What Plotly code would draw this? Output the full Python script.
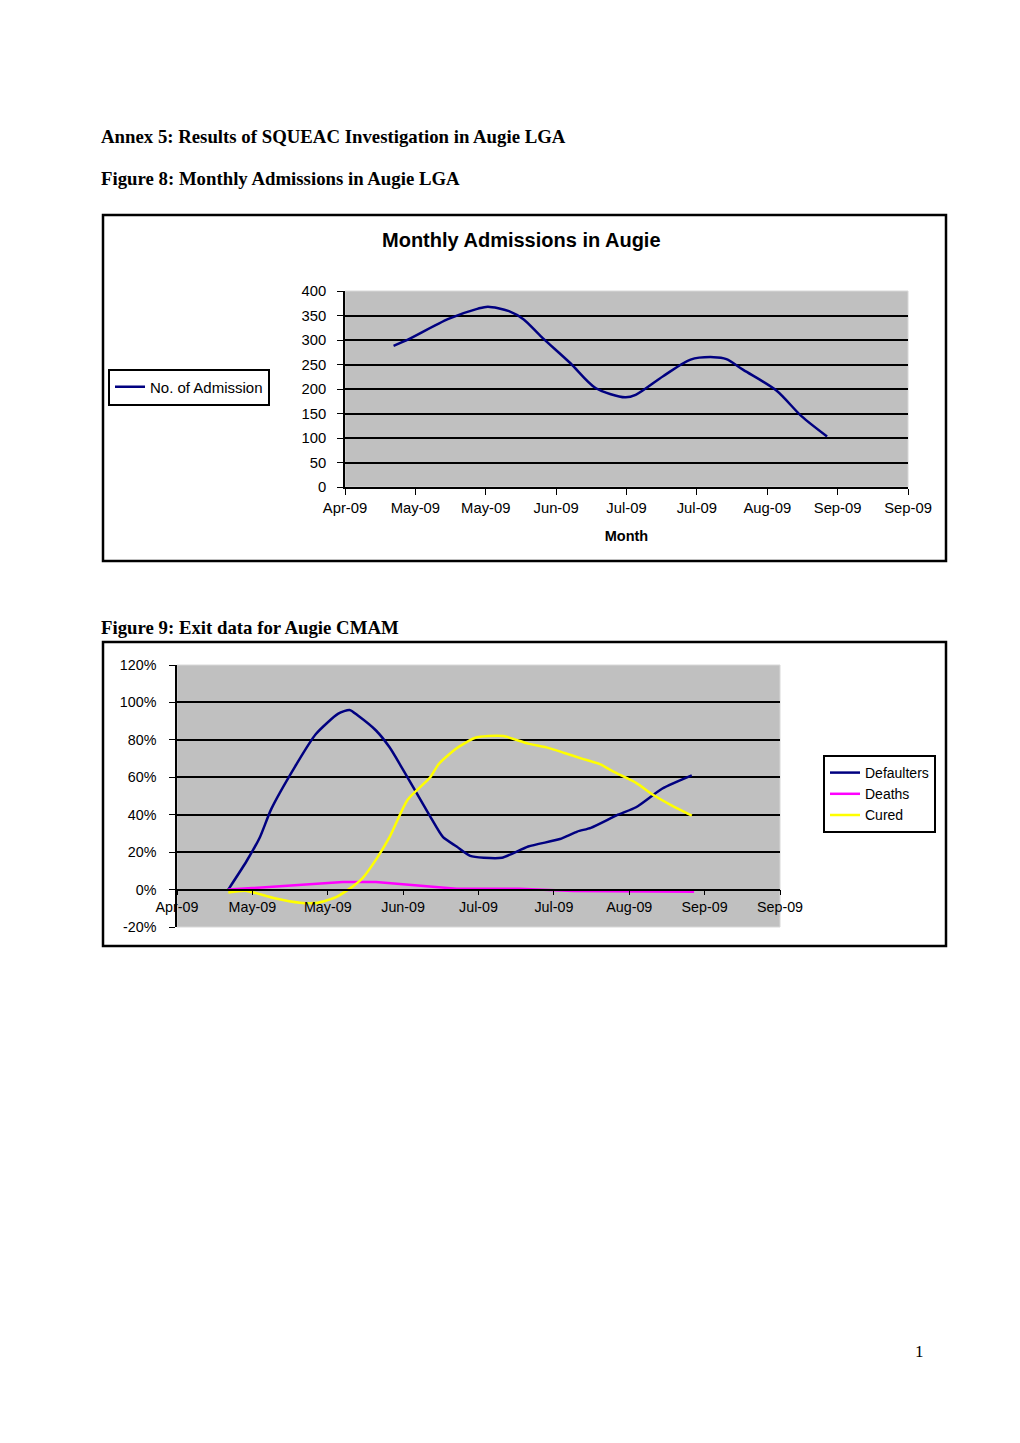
import plotly.graph_objects as go

W, H = 1020, 1443
OFF = 8  # page body margin in the browser

def px(x):
    return (x - OFF) / W

def py(y):
    return 1 - (y - OFF) / H

# ---------------- data ----------------
tick_labels = ["Apr-09", "May-09", "May-09", "Jun-09", "Jul-09", "Jul-09", "Aug-09", "Sep-09", "Sep-09"]
adm_ticks = [0, 50, 100, 150, 200, 250, 300, 350, 400]
pct_vals = [-20, 0, 20, 40, 60, 80, 100, 120]
pct_labels = ["-20%", "0%", "20%", "40%", "60%", "80%", "100%", "120%"]

adm_x = [0.69, 0.87, 1.47, 1.89, 2.03, 2.33, 2.54, 2.78, 3.20, 3.56, 3.98, 4.13, 4.52, 4.91, 5.24, 5.42, 5.66, 6.13, 6.49, 6.85]
adm_y = [288, 299, 343, 364, 368, 359, 342, 308, 253, 202, 183, 188, 226, 260, 265, 261, 239, 197, 144, 103]

def_x = [0.68, 0.92, 1.10, 1.25, 1.57, 1.84, 2.14, 2.29, 2.40, 2.64, 2.82, 3.00, 3.36, 3.53, 3.71, 3.89, 4.07, 4.31, 4.66, 5.08, 5.31, 5.49, 5.85, 6.09, 6.44, 6.83]
def_y = [0, 15, 28, 43, 66, 83, 94, 96, 93, 85, 76, 64, 39, 28, 23, 18, 17, 17, 23, 27, 31, 33, 40, 44, 54, 61]

cur_x = [0.68, 0.92, 1.28, 1.63, 1.87, 2.11, 2.29, 2.46, 2.64, 2.82, 3.06, 3.36, 3.47, 3.71, 3.95, 4.13, 4.33, 4.66, 4.90, 5.14, 5.37, 5.61, 5.79, 6.09, 6.32, 6.56, 6.83]
cur_y = [-1.6, -0.7, -4.5, -7, -7, -4, 0.5, 6, 16, 28, 48, 60, 67, 75.5, 81, 82, 82, 78, 76, 73, 70, 67, 63, 57, 50.5, 45, 39.5]

dea_x = [0.68, 2.20, 2.64, 3.71, 4.54, 5.26, 6.86]
dea_y = [0, 4, 4, 0.5, 0.5, -0.7, -1.2]

# ---------------- figure ----------------
fig = go.Figure()

fig.add_trace(go.Scatter(x=adm_x, y=adm_y, mode="lines", name="No. of Admission",
                         line=dict(color="#000080", width=2.5, shape="spline", smoothing=0.8),
                         xaxis="x", yaxis="y", legend="legend"))

fig.add_trace(go.Scatter(x=def_x, y=def_y, mode="lines", name="Defaulters",
                         line=dict(color="#000080", width=2.5, shape="spline", smoothing=0.6),
                         xaxis="x2", yaxis="y2", legend="legend2"))
fig.add_trace(go.Scatter(x=dea_x, y=dea_y, mode="lines", name="Deaths",
                         line=dict(color="#FF00FF", width=2.5),
                         xaxis="x2", yaxis="y2", legend="legend2"))
fig.add_trace(go.Scatter(x=cur_x, y=cur_y, mode="lines", name="Cured",
                         line=dict(color="#FFFF00", width=2.5, shape="spline", smoothing=0.6),
                         xaxis="x2", yaxis="y2", legend="legend2"))

sans = "Liberation Sans, Arial"
tickfont1 = dict(family=sans, size=14.8, color="black")
tickfont2 = dict(family=sans, size=14.3, color="black")

# chart 1 axes
y1_dom = [py(487), py(291)]
fig.update_layout(
    xaxis=dict(domain=[px(345), px(908)], range=[0, 8], tickmode="array",
               tickvals=list(range(9)), ticktext=tick_labels, showgrid=False,
               showline=True, linecolor="black", linewidth=1.5, ticks="outside",
               ticklen=6, tickcolor="black", tickfont=tickfont1, anchor="y",
               zeroline=False, fixedrange=True, automargin=False,
               title=dict(text="<b>Month</b>", font=dict(family=sans, size=14.5, color="black"), standoff=16)),
    yaxis=dict(domain=y1_dom, range=[0, 400], tickmode="array",
               tickvals=adm_ticks, showgrid=True,
               gridcolor="black", gridwidth=1.5, showline=True, linecolor="black",
               linewidth=1.5, ticks="outside", ticklen=6, tickcolor="black",
               tickfont=tickfont1, anchor="x", zeroline=False, fixedrange=True,
               automargin=False, ticklabelstandoff=8),
)

# chart 2 axes
y2_dom = [py(927), py(665)]
zero_pos = y2_dom[0] + (0 - (-20)) / 140 * (y2_dom[1] - y2_dom[0])
fig.update_layout(
    xaxis2=dict(domain=[px(177), px(780)], range=[0, 8], tickmode="array",
                tickvals=list(range(9)), ticktext=tick_labels, showgrid=False,
                showline=True, linecolor="black", linewidth=1.5, ticks="outside",
                ticklen=5, tickcolor="black", tickfont=tickfont2,
                anchor="free", position=zero_pos, zeroline=False, fixedrange=True,
                automargin=False),
    yaxis2=dict(domain=y2_dom, range=[-20, 120], tickmode="array",
                tickvals=pct_vals, ticktext=pct_labels,
                showgrid=True, gridcolor="black", gridwidth=1.5, showline=True,
                linecolor="black", linewidth=1.5, ticks="outside", ticklen=6,
                tickcolor="black", tickfont=tickfont2, anchor="x2",
                zeroline=False, fixedrange=True, automargin=False,
                ticklabelstandoff=10),
)

# legends
fig.update_layout(
    legend=dict(x=px(108), y=py(387), xanchor="left", yanchor="middle",
                bordercolor="black", borderwidth=2, bgcolor="white",
                font=dict(family=sans, size=15, color="black"),
                itemwidth=30, tracegroupgap=0),
    legend2=dict(x=px(823), y=py(794), xanchor="left", yanchor="middle",
                 bordercolor="black", borderwidth=2, bgcolor="white",
                 font=dict(family=sans, size=14, color="black"),
                 itemwidth=30, tracegroupgap=0),
)

shapes = []
shapes.append(dict(type="rect", xref="paper", yref="paper", x0=px(103), x1=px(946), y0=py(561), y1=py(215),
                   line=dict(color="black", width=2.5), layer="below"))
shapes.append(dict(type="rect", xref="paper", yref="paper", x0=px(103), x1=px(946), y0=py(946), y1=py(642),
                   line=dict(color="black", width=2.5), layer="below"))
shapes.append(dict(type="rect", xref="paper", yref="paper", x0=px(345), x1=px(908), y0=py(487), y1=py(291),
                   fillcolor="#C0C0C0", line=dict(color="#D8D8D8", width=1), layer="below"))
shapes.append(dict(type="rect", xref="paper", yref="paper", x0=px(177), x1=px(780), y0=py(927), y1=py(665),
                   fillcolor="#C0C0C0", line=dict(color="#D8D8D8", width=1), layer="below"))

serif = dict(family="Liberation Serif, Times New Roman", size=18.8, color="black")
annotations = [
    dict(text="<b>Annex 5: Results of SQUEAC Investigation in Augie LGA</b>", x=px(99), y=py(136),
         xref="paper", yref="paper", xanchor="left", yanchor="middle", showarrow=False, font=serif),
    dict(text="<b>Figure 8: Monthly Admissions in Augie LGA</b>", x=px(99), y=py(179),
         xref="paper", yref="paper", xanchor="left", yanchor="middle", showarrow=False, font=serif),
    dict(text="<b>Figure 9: Exit data for Augie CMAM</b>", x=px(99), y=py(628),
         xref="paper", yref="paper", xanchor="left", yanchor="middle", showarrow=False, font=serif),
    dict(text="<b>Monthly Admissions in Augie</b>", x=px(521), y=py(240),
         xref="paper", yref="paper", xanchor="center", yanchor="middle", showarrow=False,
         font=dict(family=sans, size=20, color="black")),
    dict(text="1", x=px(919), y=py(1351), xref="paper", yref="paper", xanchor="center",
         yanchor="middle", showarrow=False,
         font=dict(family="Liberation Serif, Times New Roman", size=17, color="black")),
]

fig.update_layout(
    width=W, height=H, margin=dict(l=0, r=0, t=0, b=0, pad=0, autoexpand=False),
    paper_bgcolor="white", plot_bgcolor="rgba(0,0,0,0)",
    shapes=shapes, annotations=annotations, showlegend=True,
)

fig.write_html("out.html", config={"displayModeBar": False})
